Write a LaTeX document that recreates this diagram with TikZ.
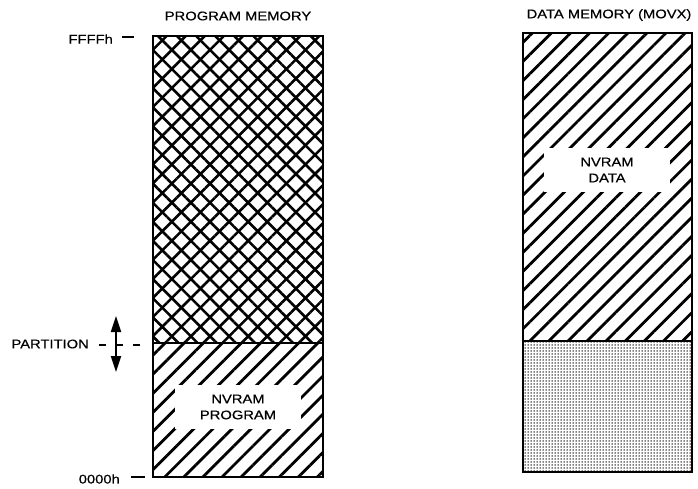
\documentclass[tikz,border=0pt]{standalone}
\usepackage{fontspec}
\setmainfont{Liberation Sans}[FakeStretch=1.18,FakeBold=0.5]
\usepackage{tikz}
\usetikzlibrary{patterns.meta,arrows.meta}
\tikzset{
  memwall/.style={draw=black, line width=2pt},
  hatch/.style={pattern={Lines[angle=45,distance=13.5pt,line width=2.8pt]}},
  crossa/.style={pattern={Lines[angle=45,distance=13.5pt,line width=2.6pt]}},
  crossb/.style={pattern={Lines[angle=-45,distance=13.5pt,line width=2.6pt]}},
  stipple/.style={pattern={Dots[distance=3pt,radius=0.75pt]}},
  lab/.style={font=\fontsize{12.5}{16}\selectfont, inner sep=1pt},
  clear/.style={lab, fill=white, align=center, minimum width=126pt, minimum height=44pt},
  tick/.style={line width=1.3pt},
  partdash/.style={line width=1.3pt, dash pattern=on 7pt off 10pt},
  partarrow/.style={line width=2pt, {Triangle[length=16pt,width=10pt]}-{Triangle[length=16pt,width=10pt]}},
  every node/.style={text=black}
}
\begin{document}
\begin{tikzpicture}[x=1pt,y=-1pt]
  \useasboundingbox (0,0) rectangle (698,489);

  % program memory
  \coordinate (ptl) at (153,36);
  \coordinate (ppr) at (323,343);
  \coordinate (ppl) at (153,343);
  \coordinate (pbr) at (323,477);
  \fill[crossa] (ptl) rectangle (ppr);
  \fill[crossb] (ptl) rectangle (ppr);
  \fill[hatch] (ppl) rectangle (pbr);
  \draw[memwall] (ptl) rectangle (pbr);
  \draw[memwall] (ppl) -- (ppr);
  \node[clear] (nvprog) at (238,407) {NVRAM\\PROGRAM};
  \node[lab] (progtitle) at (238,16) {PROGRAM MEMORY};

  % data memory
  \coordinate (dtl) at (523,33);
  \coordinate (dpr) at (692,341);
  \coordinate (dpl) at (523,341);
  \coordinate (dbr) at (692,472);
  \fill[hatch] (dtl) rectangle (dpr);
  \fill[stipple] (dpl) rectangle (dbr);
  \draw[memwall] (dtl) rectangle (dbr);
  \draw[memwall] (dpl) -- (dpr);
  \node[clear] (nvdata) at (607,170) {NVRAM\\DATA};
  \node[lab] (datatitle) at (609,15) {DATA MEMORY (MOVX)};

  % address marks
  \node[lab, anchor=east] (ffff) at (114,39) {FFFFh};
  \coordinate (ffffa) at (122,37);
  \coordinate (ffffb) at (134,37);
  \draw[tick] (ffffa) -- (ffffb);
  \node[lab, anchor=east] (zero) at (121,479) {0000h};
  \coordinate (zeroa) at (131,477);
  \coordinate (zerob) at (145,477);
  \draw[tick] (zeroa) -- (zerob);

  % partition
  \node[lab, anchor=east] (part) at (90,344) {PARTITION};
  \coordinate (parta) at (99,345);
  \coordinate (partb) at (150,345);
  \draw[partdash] (parta) -- (partb);
  \coordinate (partup) at (116,316);
  \coordinate (partdn) at (116,372);
  \draw[partarrow] (partup) -- (partdn);
\end{tikzpicture}
\end{document}
